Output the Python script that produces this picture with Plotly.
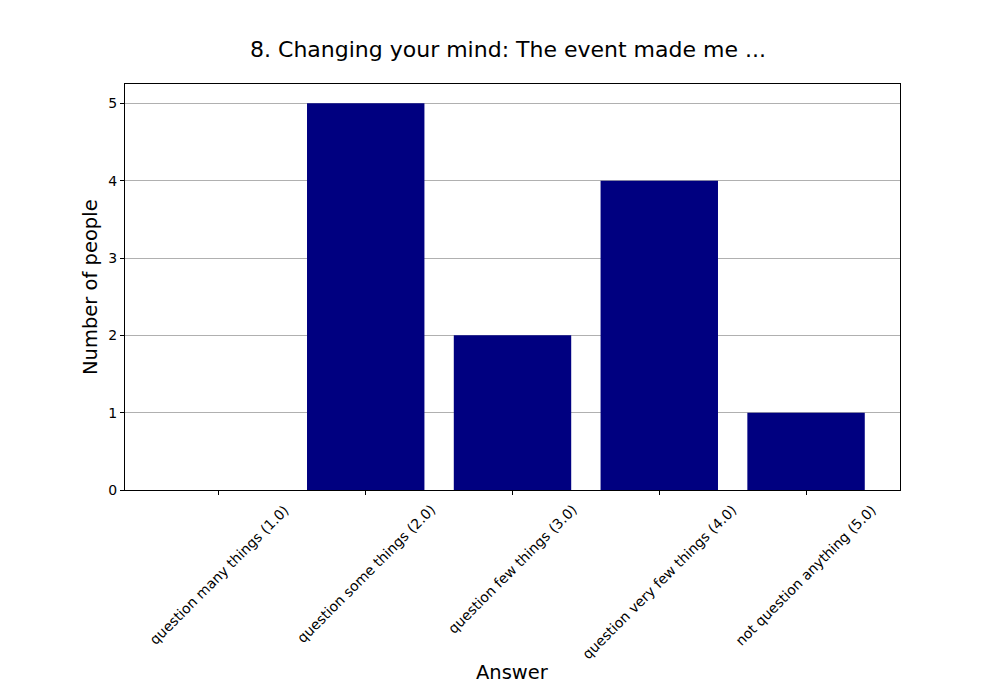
import plotly.graph_objects as go

categories = ["question many things (1.0)", "question some things (2.0)", "question few things (3.0)",
              "question very few things (4.0)", "not question anything (5.0)"]
counts = [0, 5, 2, 4, 1]
y_ticks = [0, 1, 2, 3, 4, 5]

fig = go.Figure()
fig.add_trace(go.Bar(x=list(range(len(categories))), y=counts, width=0.8,
                     marker=dict(color="#000080", line=dict(width=0))))

font = "DejaVu Sans, sans-serif"
off = 8  # page body margin
fig.update_layout(
    width=1000, height=700,
    paper_bgcolor="white", plot_bgcolor="white",
    margin=dict(l=125 - off, r=100 + off, t=84 - off, b=210 + off, autoexpand=False),
    showlegend=False,
    font=dict(family=font, color="black", size=14),
    title=dict(text="8. Changing your mind: The event made me ...", x=0.5, xanchor="center",
               y=1 - (49 - off) / 700, yanchor="middle", font=dict(size=22, family=font, color="black")),
)
fig.update_xaxes(
    range=[-0.64, 4.64], tickmode="array", tickvals=list(range(len(categories))), showticklabels=False,
    ticks="outside", ticklen=4, tickcolor="black", showgrid=False,
    showline=True, linecolor="black", linewidth=1, mirror=True, zeroline=False,
)
fig.update_yaxes(
    range=[0, 5.25], tickmode="array", tickvals=y_ticks, ticks="outside", ticklen=4, tickcolor="black",
    showgrid=True, gridcolor="#b0b0b0", gridwidth=1,
    showline=True, linecolor="black", linewidth=1, mirror=True, zeroline=False,
    tickfont=dict(size=14, family=font),
)
for i, lab in enumerate(categories):
    fig.add_annotation(text=lab, xref="x", yref="paper", x=i, y=0, yshift=-9,
                       xanchor="center", yanchor="top", textangle=-45, showarrow=False,
                       font=dict(size=14, family=font))
fig.add_annotation(text="Answer", xref="paper", yref="paper", x=0.5, y=(490 - 672) / 406,
                   xanchor="center", yanchor="middle", showarrow=False, font=dict(size=19.5, family=font))
fig.add_annotation(text="Number of people", xref="paper", yref="paper", x=(90 - 125) / 775, y=0.5,
                   xanchor="center", yanchor="middle", textangle=-90, showarrow=False,
                   font=dict(size=19.5, family=font))
fig.write_html("out.html")
